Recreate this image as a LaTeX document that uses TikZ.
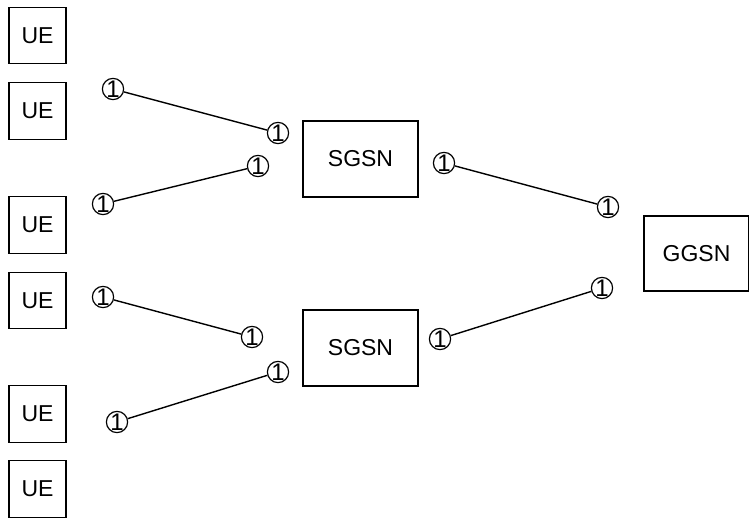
\documentclass[tikz,border=0pt]{standalone}
\usepackage{fontspec}
\setmainfont{Liberation Sans}
\begin{document}
\begin{tikzpicture}[x=1pt,y=-1pt,
  every node/.style={font=\fontsize{23}{26}\selectfont},
  netbox/.style={draw, line width=1.3pt, inner sep=0pt},
  ue/.style={netbox, minimum width=57pt, minimum height=56.5pt},
  core/.style={netbox, minimum width=115pt, minimum height=76pt},
  port/.style={draw, circle, line width=1.2pt, minimum size=18.5pt, inner sep=0pt,
    font=\fontsize{24}{24}\selectfont},
  link/.style={line width=1.4pt}]
\useasboundingbox (0,0) rectangle (749,518);

% user equipment column
\node[ue] (ue1) at (37.5,35.5) {UE};
\node[ue] (ue2) at (37.5,111) {UE};
\node[ue] (ue3) at (37.5,225) {UE};
\node[ue] (ue4) at (37.5,300.5) {UE};
\node[ue] (ue5) at (37.5,414) {UE};
\node[ue] (ue6) at (37.5,489) {UE};

% serving and gateway nodes
\node[core] (sgsn1) at (360.5,159) {SGSN};
\node[core] (sgsn2) at (360.5,348) {SGSN};
\node[netbox, minimum width=105pt, minimum height=75pt] (ggsn) at (696.5,253.5) {GGSN};

% interface markers
\node[port] (p1) at (113,89) {1};
\node[port] (p2) at (278,133) {1};
\node[port] (p3) at (258,166) {1};
\node[port] (p4) at (103,204) {1};
\node[port] (p5) at (103,297) {1};
\node[port] (p6) at (252,337) {1};
\node[port] (p7) at (278,372) {1};
\node[port] (p8) at (117,422) {1};
\node[port] (p9) at (444,163) {1};
\node[port] (p10) at (608,207) {1};
\node[port] (p11) at (602,288) {1};
\node[port] (p12) at (440,339) {1};

% links between markers
\draw[link] (p1) -- (p2);
\draw[link] (p4) -- (p3);
\draw[link] (p5) -- (p6);
\draw[link] (p8) -- (p7);
\draw[link] (p9) -- (p10);
\draw[link] (p12) -- (p11);
\end{tikzpicture}
\end{document}
